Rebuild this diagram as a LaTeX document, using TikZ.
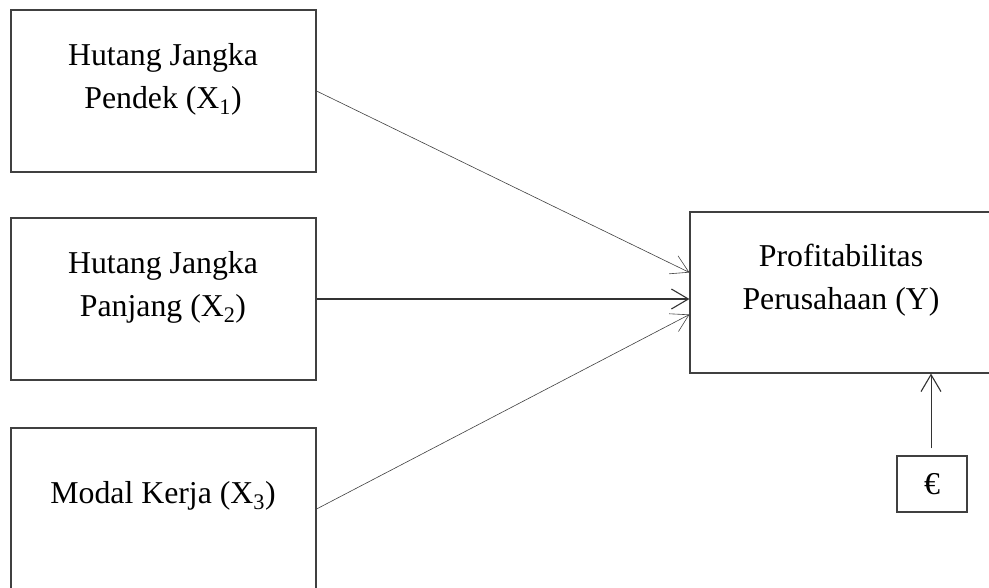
\documentclass[tikz,border=0pt]{standalone}
\usepackage{fontspec}
\setmainfont{Liberation Serif}
\usetikzlibrary{arrows.meta}
\begin{document}
\begin{tikzpicture}[x=1pt,y=-1pt,
  box/.style={draw=black!75,line width=1.1pt,inner sep=0pt},
  lbl/.style={font=\fontsize{31.8}{43}\selectfont,align=center,inner sep=0pt},
  conn/.style={draw=black!75,line width=0.6pt,-{Straight Barb[length=17pt,width=20pt,line width=0.6pt]}},
  connb/.style={draw=black!80,line width=1.1pt,-{Straight Barb[length=17pt,width=20pt,line width=1.1pt]}}]
\useasboundingbox (0,0) rectangle (989,587);
\clip (0,0) rectangle (989,587);
\node[box,minimum width=305pt,minimum height=162pt] (b1) at (163.5,91) {};
\node[box,minimum width=305pt,minimum height=162pt] (b2) at (163.5,299) {};
\node[box,minimum width=305pt,minimum height=162pt] (b3) at (163.5,509) {};
\node[box,minimum width=302pt,minimum height=161pt] (y) at (841,292.5) {};
\node[box,minimum width=70pt,minimum height=56pt] (e) at (932,484) {};
\node[lbl] (t1) at (163,79) {Hutang Jangka\\Pendek (X\textsubscript{1})};
\node[lbl] (t2) at (163,287) {Hutang Jangka\\Panjang (X\textsubscript{2})};
\node[lbl,anchor=base] (t3) at (163,503) {Modal Kerja (X\textsubscript{3})};
\node[lbl] (ty) at (841,280) {Profitabilitas\\Perusahaan (Y)};
\node[lbl,anchor=base] (te) at (932,494) {€};
\draw[conn] (b1.east) -- ([yshift=20pt]y.west);
\draw[connb] (b2.east) -- (b2.east -| y.west);
\draw[conn] (b3.east) -- ([yshift=-22pt]y.west);
\draw[connb,line width=0.9pt,shorten <=7pt] (e.north -| 931,0) -- (y.south -| 931,0);
\end{tikzpicture}
\end{document}
